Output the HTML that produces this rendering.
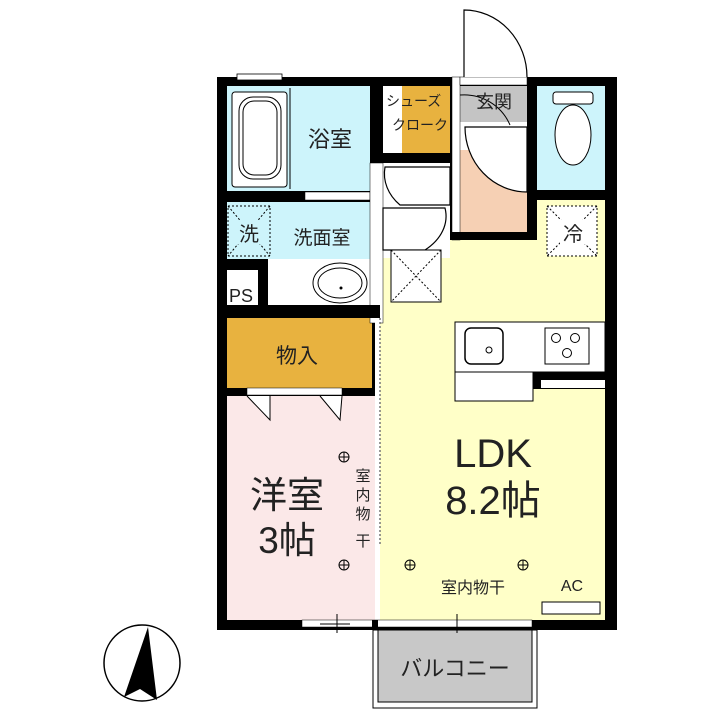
<!DOCTYPE html>
<html><head><meta charset="utf-8"><style>
html,body{margin:0;padding:0;background:#fff;}
svg{display:block}
text{font-family:"Liberation Sans","Noto Sans CJK JP",sans-serif;fill:#222;}
</style></head><body>
<svg width="720" height="720" viewBox="0 0 720 720" xmlns="http://www.w3.org/2000/svg">
<rect x="217" y="77" width="400" height="553" fill="#000"/>
<rect x="227" y="86" width="143" height="105" fill="#cdf4fb"/>
<rect x="227" y="202" width="143" height="57" fill="#cdf4fb"/>
<rect x="227" y="259" width="143" height="46" fill="#fff"/>
<rect x="258" y="270" width="112" height="35" fill="#fff"/>
<rect x="227" y="318" width="145" height="70" fill="#e8b23f"/>
<rect x="227" y="396" width="151" height="224" fill="#fbe8e8"/>
<rect x="380" y="163" width="75" height="457" fill="#ffffc8"/>
<rect x="455" y="240" width="150" height="380" fill="#ffffc8"/>
<rect x="537" y="200" width="68" height="50" fill="#ffffc8"/>
<rect x="537" y="86" width="68" height="104" fill="#cdf4fb"/>
<rect x="383" y="86" width="19" height="67" fill="#fff"/>
<rect x="402" y="86" width="48" height="67" fill="#e8b23f"/>
<rect x="460" y="86" width="67" height="146" fill="#fff"/>
<rect x="460" y="150" width="67" height="82" fill="#f6d0b4"/>
<rect x="460" y="86" width="67" height="36" fill="#c4c4c4"/>
<rect x="383" y="163" width="67" height="95" fill="#fff"/>
<rect x="370" y="77" width="13" height="86" fill="#000"/>
<rect x="370" y="153" width="85" height="10" fill="#000"/>
<rect x="450" y="77" width="10" height="163" fill="#000"/>
<rect x="452" y="77" width="8" height="163" fill="#fff" stroke="#000" stroke-width="0.5"/>
<rect x="527" y="77" width="10" height="163" fill="#000"/>
<rect x="452" y="232" width="85" height="8" fill="#000"/>
<rect x="537" y="190" width="80" height="10" fill="#000"/>
<rect x="217" y="191" width="153" height="11" fill="#000"/>
<rect x="305" y="192" width="65" height="8" fill="#fff" stroke="#000" stroke-width="0.5"/>
<rect x="370" y="163" width="13" height="160" fill="#fff" stroke="#000" stroke-width="0.5"/>
<rect x="217" y="305" width="163" height="13" fill="#000"/>
<rect x="227" y="259" width="31" height="11" fill="#000"/>
<rect x="227" y="270" width="31" height="35" fill="#fff"/>
<rect x="258" y="259" width="10" height="46" fill="#000"/>
<rect x="217" y="388" width="163" height="8" fill="#000"/>
<rect x="247" y="388" width="95" height="7" fill="#fff" stroke="#000" stroke-width="0.5"/>
<rect x="375" y="318" width="5" height="302" fill="#fff"/>
<line x1="380" y1="318" x2="380" y2="545" stroke="#777" stroke-width="1.5" stroke-dasharray="2,2"/>
<rect x="302" y="620" width="230" height="7" fill="#fff" stroke="#000" stroke-width="0.5"/>
<rect x="372" y="620" width="6" height="10" fill="#000"/>
<rect x="237" y="74" width="45" height="6" fill="#fff" stroke="#000" stroke-width="0.8"/>
<rect x="373" y="630" width="164" height="78" fill="#fff" stroke="#000"/>
<rect x="378" y="630" width="154" height="72" fill="#c8c8c8" stroke="#000"/>
<text x="455" y="676" font-size="22" text-anchor="middle">バルコニー</text>
<rect x="460" y="77" width="67" height="8" fill="#fff" stroke="#000" stroke-width="0.5"/>
<path d="M464 77 V10 A63 67 0 0 1 527 77" fill="#fff" stroke="#000" stroke-width="1.2"/>
<path d="M527 127 L465 127 A62 65 0 0 0 527 192 Z" fill="#fff" stroke="#000" stroke-width="1.2"/>
<path d="M460 95 A50 50 0 0 1 510 125" fill="none" stroke="#000"/>
<path d="M450 167 L385 167 A55 45 0 0 0 400 205 L450 205 Z" fill="#fff" stroke="#000" stroke-width="1.2"/>
<path d="M383 208 L445 208 A62 45 0 0 1 425 250 L383 250 Z" fill="#fff" stroke="#000" stroke-width="1.2"/>
<rect x="232" y="92" width="55" height="95" rx="3" fill="#fff" stroke="#000"/>
<rect x="239" y="97" width="42" height="82" rx="14" fill="none" stroke="#000"/>
<rect x="243" y="101" width="34" height="74" rx="11" fill="none" stroke="#000"/>
<line x1="290" y1="88" x2="290" y2="189" stroke="#000"/>
<text x="330" y="147" font-size="22" text-anchor="middle">浴室</text>
<rect x="228" y="206" width="42" height="50" fill="none" stroke="#000" stroke-dasharray="2,2"/>
<path d="M228 206 L270 256 M270 206 L228 256" stroke="#000" stroke-dasharray="2,2"/>
<rect x="236" y="220" width="26" height="24" fill="#cdf4fb"/>
<text x="249" y="241" font-size="20" text-anchor="middle">洗</text>
<text x="322" y="244" font-size="19" text-anchor="middle">洗面室</text>
<ellipse cx="340" cy="283" rx="27" ry="20" fill="#fff" stroke="#000"/>
<ellipse cx="340" cy="283" rx="22" ry="15" fill="none" stroke="#000"/>
<circle cx="341" cy="288" r="1.5" fill="#000"/>
<text x="241" y="302" font-size="18" text-anchor="middle">PS</text>
<text x="386" y="106" font-size="14">シューズ</text>
<text x="392" y="130" font-size="14">クローク</text>
<text x="494" y="108" font-size="18" text-anchor="middle">玄関</text>
<rect x="553" y="92" width="40" height="12" rx="3" fill="#fff" stroke="#000"/>
<ellipse cx="573" cy="135" rx="18" ry="30" fill="#fff" stroke="#000"/>
<rect x="547" y="206" width="50" height="50" fill="#fff" stroke="#000" stroke-dasharray="2,2"/>
<path d="M547 206 L597 256 M597 206 L547 256" stroke="#000" stroke-dasharray="2,2"/>
<rect x="560" y="220" width="26" height="24" fill="#fff"/>
<text x="573" y="241" font-size="20" text-anchor="middle">冷</text>
<rect x="391" y="250" width="50" height="52" fill="#fff" stroke="#000"/>
<path d="M391 250 L441 302 M441 250 L391 302" stroke="#000" stroke-dasharray="2,2"/>
<rect x="455" y="322" width="150" height="50" fill="#fff" stroke="#000"/>
<rect x="455" y="372" width="78" height="29" fill="#fff" stroke="#000"/>
<rect x="533" y="372" width="72" height="17" fill="#000"/>
<rect x="541" y="380" width="64" height="8" fill="#fff"/>
<rect x="465" y="328" width="38" height="36" rx="6" fill="#fff" stroke="#000" stroke-width="1.5"/>
<circle cx="489" cy="350" r="3" fill="none" stroke="#000"/>
<rect x="545" y="328" width="44" height="36" fill="#fff" stroke="#000"/>
<circle cx="556" cy="338" r="4.5" fill="none" stroke="#000"/>
<circle cx="575" cy="338" r="4.5" fill="none" stroke="#000"/>
<circle cx="567" cy="353" r="4.5" fill="none" stroke="#000"/>
<text x="297" y="363" font-size="21" text-anchor="middle">物入</text>
<path d="M247 396 L270 420 L270 396 M320 396 L340 420 L342 396" fill="#fff" stroke="#000"/>
<text x="287" y="508" font-size="37" text-anchor="middle">洋室</text>
<text x="287" y="553" font-size="37" text-anchor="middle">3帖</text>
<g font-size="15" text-anchor="middle"><text x="363" y="481">室</text><text x="363" y="500">内</text><text x="363" y="519">物</text><text x="363" y="546">干</text></g>
<g stroke="#000" fill="none"><circle cx="344" cy="457" r="5"/><path d="M339 457h10M344 452v10"/><circle cx="344" cy="565" r="5"/><path d="M339 565h10M344 560v10"/>
<circle cx="410" cy="565" r="5"/><path d="M405 565h10M410 560v10"/><circle cx="523" cy="565" r="5"/><path d="M518 565h10M523 560v10"/></g>
<text x="493" y="467" font-size="40" text-anchor="middle">LDK</text>
<text x="493" y="514" font-size="40" text-anchor="middle">8.2帖</text>
<text x="473" y="593" font-size="16" text-anchor="middle">室内物干</text>
<text x="572" y="591" font-size="16" text-anchor="middle">AC</text>
<rect x="542" y="602" width="58" height="12" fill="#fff" stroke="#000"/>
<g stroke="#000"><line x1="337" y1="614" x2="337" y2="633"/><line x1="457" y1="614" x2="457" y2="633"/><line x1="320" y1="624" x2="350" y2="624"/></g>
<circle cx="142" cy="663" r="38" fill="none" stroke="#000" stroke-width="1.5"/>
<path d="M148 627 L124 697 L140 689 L157 700 Z" fill="#000"/>
</svg>
</body></html>
